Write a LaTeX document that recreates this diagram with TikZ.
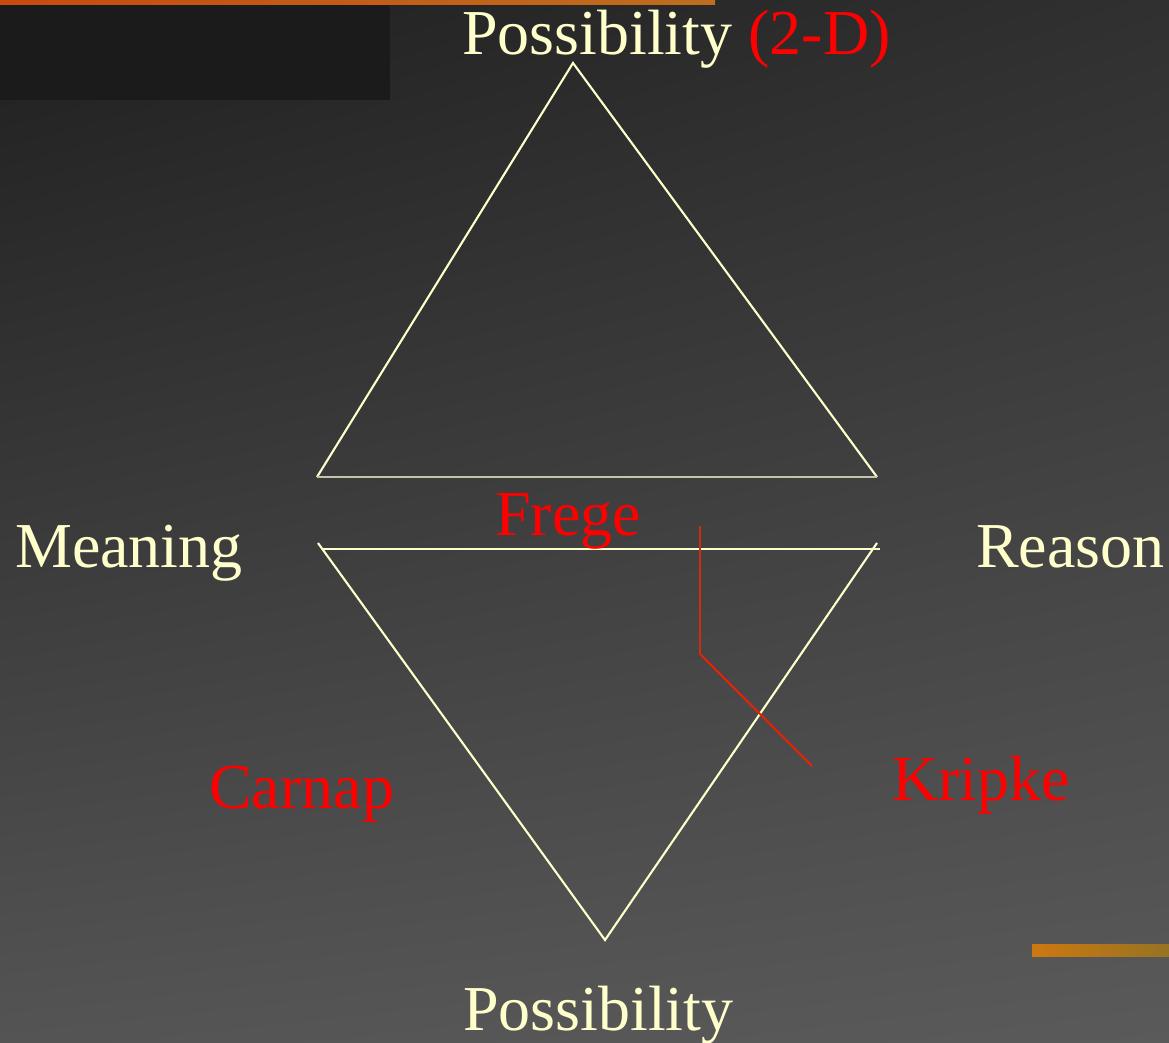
\documentclass[tikz,border=0pt]{standalone}
\usepackage{fontspec}
\usetikzlibrary{shadings}
\setmainfont{Liberation Serif}
\definecolor{cream}{HTML}{FFFFCC}
\definecolor{basegray}{HTML}{C4C4A8}
\definecolor{redA}{HTML}{C8300E}
\definecolor{redB}{HTML}{F02000}
\definecolor{bgUL}{HTML}{1F1F1F}
\definecolor{bgUR}{HTML}{303030}
\definecolor{bgLL}{HTML}{545454}
\definecolor{bgLR}{HTML}{5A5A5A}
\definecolor{darkbox}{HTML}{1B1B1B}
\definecolor{orA}{HTML}{C84A10}
\definecolor{orB}{HTML}{BE6E1E}
\definecolor{orC}{HTML}{CD7810}
\definecolor{orD}{HTML}{967323}
\tikzset{
  lbl/.style={inner sep=0pt, anchor=base west, font=\fontsize{64}{72}\selectfont},
  cr/.style={lbl, text=cream},
  rd/.style={lbl, text=red},
  edgeline/.style={draw=cream, line width=2.1pt},
  basebar/.style={draw=basegray, line width=2.1pt},
}
\begin{document}
\begin{tikzpicture}[x=1pt, y=-1pt]
\useasboundingbox (0,0) rectangle (1169,1043);
% background
\shade[upper left=bgUL, upper right=bgUR, lower left=bgLL, lower right=bgLR]
  (0,0) rectangle (1169,1043);
\fill[darkbox] (0,5) rectangle (390,100);
\shade[left color=orA, right color=orB] (0,0) rectangle (715,5);
\shade[left color=orC, right color=orD] (1032,944) rectangle (1169,956);

% upper triangle
\coordinate (ua) at (573,63);
\coordinate (ul) at (317,477);
\coordinate (ur) at (877,477);
\draw[edgeline] (ul) -- (ua) -- (ur);
\draw[basebar] (ul) -- (ur);

% lower triangle
\coordinate (ll) at (318,543);
\coordinate (lr) at (877,543);
\coordinate (lb) at (605,940);
\coordinate (hl) at (322,549);
\coordinate (hr) at (880,549);
\draw[edgeline] (ll) -- (lb) -- (lr);
\draw[edgeline] (hl) -- (hr);

% red connector
\coordinate (r1) at (700,526);
\coordinate (r2) at (700,654);
\coordinate (r3) at (812,766);
\draw[draw=redA, line width=1.8pt] (r1) -- (r2);
\draw[draw=redB, line width=1.8pt] (r2) -- (r3);

% labels
\node[cr] (ptop) at (462,55) {Possibility \textcolor{red}{(2-D)}};
\node[cr] (mean) at (15,567) {Meaning};
\node[cr] (reas) at (976,567) {Reason};
\node[rd] (frege) at (495,535) {Frege};
\node[rd] (carnap) at (209,808) {Carnap};
\node[rd] (kripke) at (892,800) {Kripke};
\node[cr] (pbot) at (463,1030) {Possibility};
\end{tikzpicture}
\end{document}
